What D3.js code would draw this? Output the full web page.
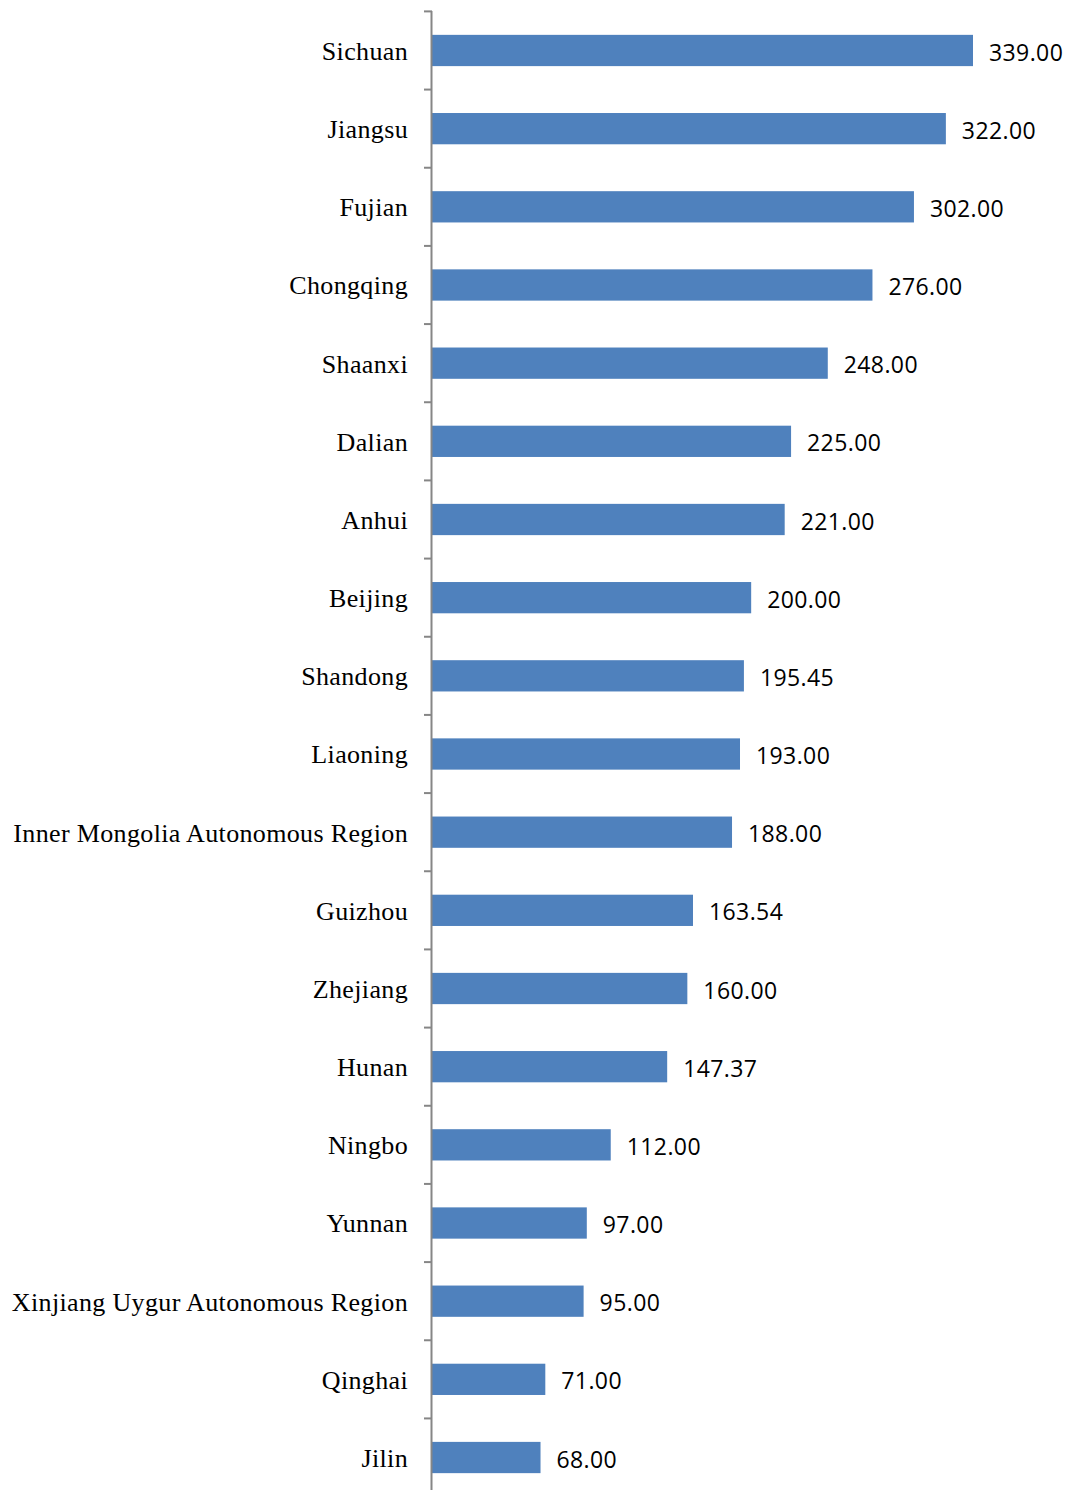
<!DOCTYPE html>
<meta charset="utf-8">
<script src="https://d3js.org/d3.v7.min.js"></script>
<style>
  body { margin: 0; background: #fff; }
</style>
<div id="my_dataviz"></div>
<script>

    // categories and values, top to bottom
    const regions = ["Sichuan", "Jiangsu", "Fujian", "Chongqing", "Shaanxi", "Dalian", "Anhui",
        "Beijing", "Shandong", "Liaoning", "Inner Mongolia Autonomous Region", "Guizhou",
        "Zhejiang", "Hunan", "Ningbo", "Yunnan", "Xinjiang Uygur Autonomous Region", "Qinghai", "Jilin"];
    const amounts = [339, 322, 302, 276, 248, 225, 221, 200, 195.45, 193, 188, 163.54,
        160, 147.37, 112, 97, 95, 71, 68];

    const W = 1069, H = 1490;
    const svg = d3.select("#my_dataviz")
        .append("svg")
        .attr("width", W)
        .attr("height", H);

    // x scale: 339 ends around x=973
    const x = d3.scaleLinear()
        .domain([0, 339])
        .range([432, 973]);

    // y band scale
    const y = d3.scaleBand()
        .domain(regions)
        .range([11.4, 1496.6])
        .paddingInner(0.6)
        .paddingOuter(0.3);

    // bars
    svg.selectAll("rect.bar")
        .data(regions)
        .join("rect")
        .attr("class", "bar")
        .attr("x", x(0))
        .attr("y", d => y(d))
        .attr("width", (d, i) => x(amounts[i]) - x(0))
        .attr("height", y.bandwidth())
        .attr("fill", "#4f81bd");

    // value labels
    svg.selectAll("text.val")
        .data(regions)
        .join("text")
        .attr("class", "val")
        .attr("x", (d, i) => x(amounts[i]) + 16)
        .attr("y", d => y(d) + y.bandwidth() / 2)
        .attr("dy", "0.44em")
        .style("font-family", "'Open Sans', sans-serif")
        .style("font-size", "23px")
        .style("letter-spacing", "0.4px")
        .attr("fill", "#000")
        .text((d, i) => d3.format(".2f")(amounts[i]));

    // left axis with ticks at band boundaries
    const step = y.step();
    const axisG = svg.append("g");
    axisG.append("line")
        .attr("x1", 431.5).attr("x2", 431.5)
        .attr("y1", 11).attr("y2", H)
        .attr("stroke", "#868686")
        .attr("stroke-width", 2);
    const bounds = d3.range(regions.length).map(i => y(regions[i]) - y.paddingInner() * step / 2);
    axisG.selectAll("line.tick")
        .data(bounds)
        .join("line")
        .attr("class", "tick")
        .attr("x1", 424).attr("x2", 432)
        .attr("y1", d => d).attr("y2", d => d)
        .attr("stroke", "#868686")
        .attr("stroke-width", 2);

    // category labels
    svg.selectAll("text.cat")
        .data(regions)
        .join("text")
        .attr("class", "cat")
        .attr("x", 408)
        .attr("y", d => y(d) + y.bandwidth() / 2)
        .attr("dy", "0.36em")
        .attr("text-anchor", "end")
        .style("font-family", "'Liberation Serif', 'Times New Roman', serif")
        .style("font-size", "26px")
        .style("letter-spacing", "0.35px")
        .attr("fill", "#000")
        .text(d => d);

</script>
